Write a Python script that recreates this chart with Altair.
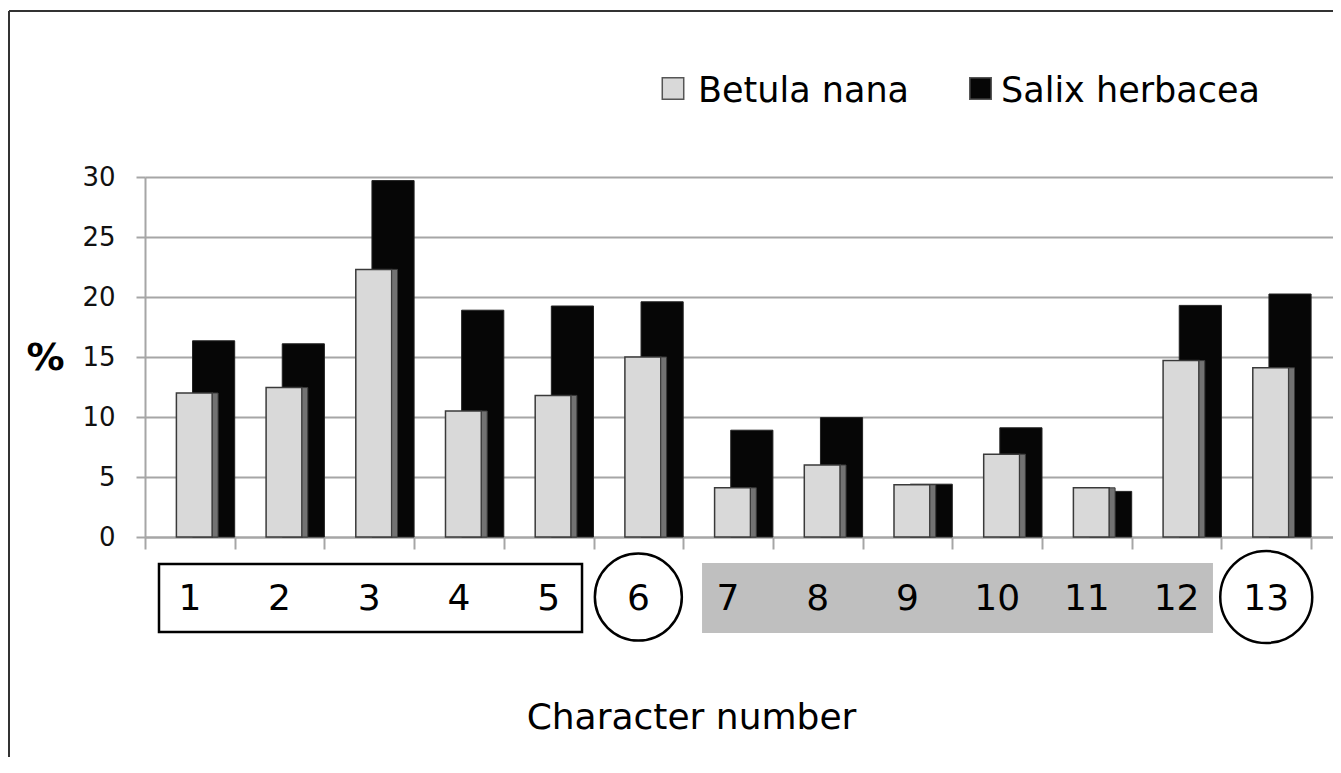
import altair as alt
import pandas as pd

# ---- data ----
categories = list(range(1, 14))
betula_nana = [12.0, 12.45, 22.3, 10.5, 11.8, 15.0, 4.1, 6.0, 4.35, 6.9, 4.1, 14.7, 14.1]
salix_herbacea = [16.35, 16.1, 29.7, 18.9, 19.25, 19.6, 8.9, 9.95, 4.4, 9.1, 3.8, 19.3, 20.25]
category_labels = [str(c) for c in categories]
legend_names = ["Betula nana", "Salix herbacea"]
y_ticks = [0, 5, 10, 15, 20, 25, 30]
boundary_ticks = [c - 0.5 for c in categories] + [13.5]
circled = [6, 13]
circle_sizes = [7569, 8464]

FONT = "DejaVu Sans"
W, H = 1188, 360

df = pd.DataFrame({"cat": categories, "betula": betula_nana, "salix": salix_herbacea})
lab_df = pd.DataFrame({"cat": categories, "label": category_labels})
circ_df = pd.DataFrame({"cat": circled, "size": circle_sizes})

xs = alt.Scale(domain=[0.5, 0.5 + W / 89.7], nice=False, zero=False)
ys = alt.Scale(domain=[0, 30], nice=False)

base = alt.Chart(df)

salix_bars = base.transform_calculate(x0="datum.cat + 0.03", x1="datum.cat + 0.5").mark_rect(
    color="#060606", stroke="#222222", strokeWidth=1
).encode(
    x=alt.X("x0:Q", scale=xs,
            axis=alt.Axis(values=boundary_ticks, labels=False, ticks=True, tickSize=12,
                          tickColor="#a6a6a6", tickWidth=2, domainColor="#a6a6a6",
                          domainWidth=2, grid=False, title="Character number",
                          titleFont=FONT, titleFontSize=36, titleFontWeight="normal",
                          titleColor="#000000", titleX=546, titleY=191,
                          titleBaseline="alphabetic", titleAlign="center")),
    x2="x1:Q",
    y=alt.Y("salix:Q", scale=ys,
            axis=alt.Axis(values=y_ticks, tickSize=9, tickColor="#a6a6a6", tickWidth=2,
                          domainColor="#a6a6a6", domainWidth=2, gridColor="#a6a6a6",
                          gridWidth=2, labelFont=FONT, labelFontSize=26,
                          labelColor="#111111", labelPadding=21, title="%",
                          titleFont=FONT, titleFontSize=38, titleFontWeight="bold",
                          titleAngle=0, titleX=-100, titleY=181, titleBaseline="middle",
                          titleAlign="center", titleColor="#000000")),
    y2=alt.datum(0),
)

betula_bars = base.transform_calculate(x0="datum.cat - 0.15", x1="datum.cat + 0.25").mark_rect(
    color="#d9d9d9", stroke="#3a3a3a", strokeWidth=1.5
).encode(x=alt.X("x0:Q", scale=xs), x2="x1:Q", y=alt.Y("betula:Q", scale=ys), y2=alt.datum(0))

betula_side = base.transform_calculate(x0="datum.cat + 0.25", x1="datum.cat + 0.315").mark_rect(
    color="#727272", stroke="#3a3a3a", strokeWidth=1
).encode(x=alt.X("x0:Q", scale=xs), x2="x1:Q", y=alt.Y("betula:Q", scale=ys), y2=alt.datum(0))

# grouping decorations under the category numbers
grey_band = alt.Chart(pd.DataFrame({"a": [7], "b": [12]})).transform_calculate(
    x0="datum.a - 0.29", x1="datum.b + 0.406"
).mark_rect(color="#bfbfbf").encode(
    x=alt.X("x0:Q", scale=xs), x2="x1:Q", y=alt.value(386), y2=alt.value(456)
)

box = alt.Chart(pd.DataFrame({"a": [1], "b": [5]})).transform_calculate(
    x0="datum.a - 0.344", x1="datum.b + 0.372"
).mark_rect(fill=None, stroke="#000000", strokeWidth=2.5).encode(
    x=alt.X("x0:Q", scale=xs), x2="x1:Q", y=alt.value(387), y2=alt.value(455)
)

circles = alt.Chart(circ_df).mark_point(
    shape="circle", filled=False, stroke="#000000", strokeWidth=2.5, opacity=1
).encode(x=alt.X("cat:Q", scale=xs), y=alt.value(420), size=alt.Size("size:Q", scale=None))

labels = alt.Chart(lab_df).mark_text(
    font=FONT, fontSize=36, color="#000000", baseline="middle", align="center"
).encode(x=alt.X("cat:Q", scale=xs), y=alt.value(422), text="label:N")

# legend (manual, Excel style)
leg_df = pd.DataFrame({"name": legend_names, "fill": ["#d9d9d9", "#060606"],
                       "sx": [528, 835.5], "tx": [553, 856]})
leg_sym = alt.Chart(leg_df).mark_point(shape="square", filled=True, size=460, opacity=1,
                                       stroke="#555555", strokeWidth=1.5).encode(
    x=alt.X("sx:Q", scale=None), y=alt.value(-88.5), fill=alt.Fill("fill:N", scale=None)
)
leg_txt = alt.Chart(leg_df).mark_text(font=FONT, fontSize=35, color="#000000",
                                      align="left", baseline="alphabetic").encode(
    x=alt.X("tx:Q", scale=None), y=alt.value(-75), text="name:N"
)

# outer frame (top and left edges visible)
one = pd.DataFrame({"k": [0]})
frame_top = alt.Chart(one).mark_rule(color="#333333", strokeWidth=2).encode(
    x=alt.value(-136), x2=alt.value(W), y=alt.value(-166)
)
frame_left = alt.Chart(one).mark_rule(color="#333333", strokeWidth=2).encode(
    x=alt.value(-136), y=alt.value(-166), y2=alt.value(600)
)

chart = alt.layer(
    grey_band, box, circles, labels,
    salix_bars, betula_bars, betula_side,
    leg_sym, leg_txt, frame_top, frame_left,
).properties(
    width=W, height=H,
    autosize=alt.AutoSizeParams(type="none"),
    padding={"left": 137, "top": 169, "right": 0, "bottom": 220},
    background="#ffffff",
).configure_view(stroke=None)

chart.save("out.html", embed_options={"renderer": "svg", "actions": False})
